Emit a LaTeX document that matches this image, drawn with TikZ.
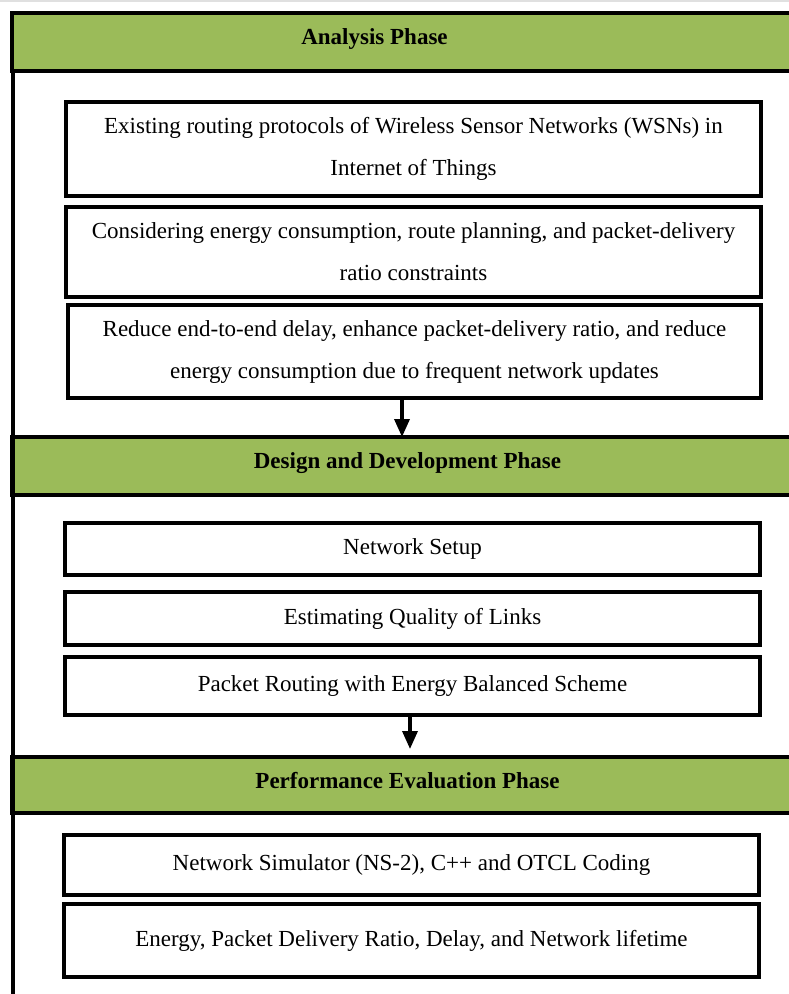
\documentclass[tikz,border=0pt]{standalone}
\usepackage{fontspec}
\setmainfont{Liberation Serif}
\usetikzlibrary{arrows.meta}
\definecolor{barGreen}{HTML}{9BBB59}
\tikzset{
  bar/.style={draw=black, fill=barGreen, line width=3.2pt, anchor=north west, inner sep=0pt, outer sep=0pt},
  bartitle/.style={font=\fontsize{23}{27}\selectfont\bfseries, inner sep=0pt},
  box/.style={draw=black, fill=white, line width=3.2pt, inner sep=0pt, outer sep=0pt, align=center,
    font=\fontsize{23}{42}\selectfont},
  arr/.style={line width=3.4pt, -{Triangle[length=18pt,width=15pt]}},
  frame/.style={line width=3.2pt}
}
\begin{document}
\begin{tikzpicture}[x=1pt,y=-1pt]
\useasboundingbox (0,0) rectangle (789,994);
\clip (0,0) rectangle (789,994);
\fill[white] (0,0) rectangle (789,994);
\draw[black!12, line width=2pt] (0,1) -- (789,1);
% outer frame left side
\coordinate (fbot) at (13,1000);
% bars
\node[bar, minimum width=800, minimum height=58] (bar1) at (12,13) {};
\node[bar, minimum width=800, minimum height=58] (bar2) at (12,437) {};
\node[bar, minimum width=800, minimum height=56] (bar3) at (12,757) {};
\draw[frame] (bar1.south west) ++(1,0) coordinate (ftop) -- (fbot);
\node[bartitle] (t1) at (374.5,39) {Analysis Phase};
\node[bartitle] (t2) at (407.5,463) {Design and Development Phase};
\node[bartitle] (t3) at (407.5,781) {Performance Evaluation Phase};
% analysis boxes
\node[box, minimum width=695, minimum height=94] (b1) at (413.5,149)
  {Existing routing protocols of Wireless Sensor Networks (WSNs) in\\Internet of Things};
\node[box, minimum width=695, minimum height=90] (b2) at (413.5,252)
  {Considering energy consumption, route planning, and packet-delivery\\ratio constraints};
\node[box, minimum width=693, minimum height=93] (b3) at (414.5,351.5)
  {Reduce end-to-end delay, enhance packet-delivery ratio, and reduce\\energy consumption due to frequent network updates};
% design boxes
\node[box, minimum width=695, minimum height=52] (b4) at (412.5,549) {Network Setup};
\node[box, minimum width=695, minimum height=53] (b5) at (412.5,618.5) {Estimating Quality of Links};
\node[box, minimum width=695, minimum height=58] (b6) at (412.5,686) {Packet Routing with Energy Balanced Scheme};
% evaluation boxes
\node[box, minimum width=695, minimum height=60] (b7) at (411.5,865) {Network Simulator (NS-2), C++ and OTCL Coding};
\node[box, minimum width=695, minimum height=73] (b8) at (411.5,940.5) {Energy, Packet Delivery Ratio, Delay, and Network lifetime};
% arrows
\draw[arr] ([xshift=-12.5pt]b3.south) -- ([xshift=-12.5pt]b3.south |- bar2.north);
\draw[arr] ([xshift=-2.5pt]b6.south) -- ([xshift=-2.5pt,yshift=8pt]b6.south |- bar3.north);
\end{tikzpicture}
\end{document}
